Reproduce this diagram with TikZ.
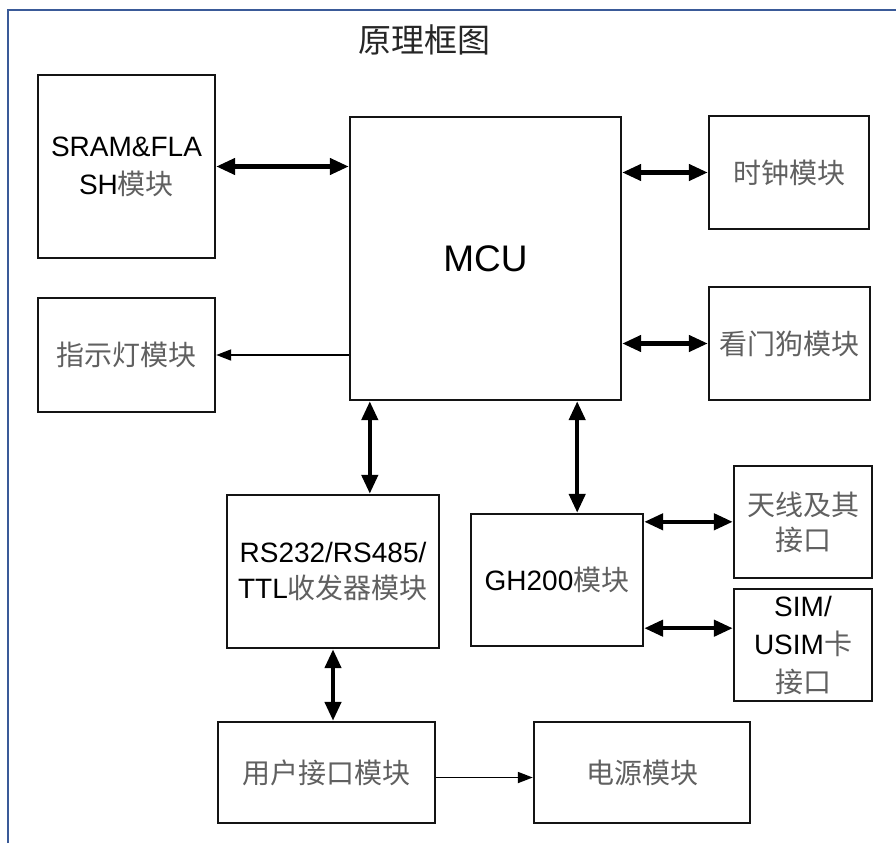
\documentclass[tikz,border=0pt]{standalone}
\usepackage{fontspec}
\setmainfont{Liberation Sans}
\newfontfamily\cjk{Noto Sans CJK SC}
\usetikzlibrary{arrows.meta,calc}
\definecolor{framblue}{HTML}{3A5A98}
\definecolor{zhgray}{HTML}{606060}
\newcommand\zh[1]{{\color{zhgray}\cjk #1}}
\tikzset{
  box/.style={draw=black!92, line width=2.4pt, fill=white, inner sep=0pt, align=center,
    font=\fontsize{28}{38}\selectfont},
  dbl/.style={line width=4.4pt, {Triangle[length=19pt,width=16pt]}-{Triangle[length=19pt,width=16pt]}},
  sgl/.style={line width=1.8pt, -{Triangle[length=15pt,width=11pt]}},
}
\begin{document}
\begin{tikzpicture}[x=1pt,y=-1pt]
\useasboundingbox (0,0) rectangle (896,843);
\fill[white] (0,0) rectangle (896,843);
% outer frame
\coordinate (fbl) at (8,843);
\coordinate (ftl) at (8,10);
\coordinate (ftr) at (896,10);
\draw[framblue, line width=2.2pt] (fbl) -- (ftl) -- (ftr);
% title
\node[inner sep=0pt, font=\fontsize{33}{33}\selectfont\cjk, text=black!85] (title) at (424,40) {原理框图};
% boxes
\node[box, minimum width=177pt, minimum height=183pt] (sram) at (126.5,166.5) {SRAM\&FLA\\SH\zh{模块}};
\node[box, minimum width=177pt, minimum height=114pt] (led) at (126.5,355) {\zh{指示灯模块}};
\node[box, minimum width=271pt, minimum height=283pt, font=\fontsize{37}{40}\selectfont] (mcu) at (485.5,258.5) {MCU};
\node[box, minimum width=160pt, minimum height=113pt] (clk) at (789,172.5) {\zh{时钟模块}};
\node[box, minimum width=161pt, minimum height=113pt] (wdg) at (789.5,343.5) {\zh{看门狗模块}};
\node[box, minimum width=212pt, minimum height=153pt, font=\fontsize{28}{36}\selectfont] (rs) at (333,571.5) {RS232/RS485/\\TTL\zh{收发器模块}};
\node[box, minimum width=172pt, minimum height=132pt] (gh) at (557,580) {GH200\zh{模块}};
\node[box, minimum width=138pt, minimum height=112pt, font=\fontsize{28}{35}\selectfont] (ant) at (803,522) {\zh{天线及其}\\\zh{接口}};
\node[box, minimum width=138pt, minimum height=112pt, font=\fontsize{28}{38}\selectfont] (sim) at (803,645) {SIM/\\USIM\zh{卡}\\\zh{接口}};
\node[box, minimum width=217pt, minimum height=101pt] (user) at (326.5,772.5) {\zh{用户接口模块}};
\node[box, minimum width=216pt, minimum height=101pt] (pwr) at (642,772.5) {\zh{电源模块}};
% connectors
\draw[dbl] (sram.east) -- (mcu.west |- sram.east);
\draw[sgl] (mcu.west |- led.east) -- (led.east);
\draw[dbl] (mcu.east |- clk.west) -- (clk.west);
\draw[dbl] (mcu.east |- wdg.west) -- (wdg.west);
\draw[dbl] ([xshift=21pt]mcu.south west) -- ([xshift=21pt]mcu.south west |- rs.north);
\draw[dbl] ([xshift=-45pt]mcu.south east) -- ([xshift=-45pt]mcu.south east |- gh.north);
\draw[dbl] ([yshift=-9pt]gh.north east) -- ([yshift=-9pt]gh.north east -| ant.west);
\draw[dbl] ([yshift=19pt]gh.south east) -- ([yshift=19pt]gh.south east -| sim.west);
\draw[dbl] (rs.south) -- (rs.south |- user.north);
\draw[sgl] ([yshift=-5pt]user.east) -- ([yshift=-5pt]user.east -| pwr.west);
\end{tikzpicture}
\end{document}
